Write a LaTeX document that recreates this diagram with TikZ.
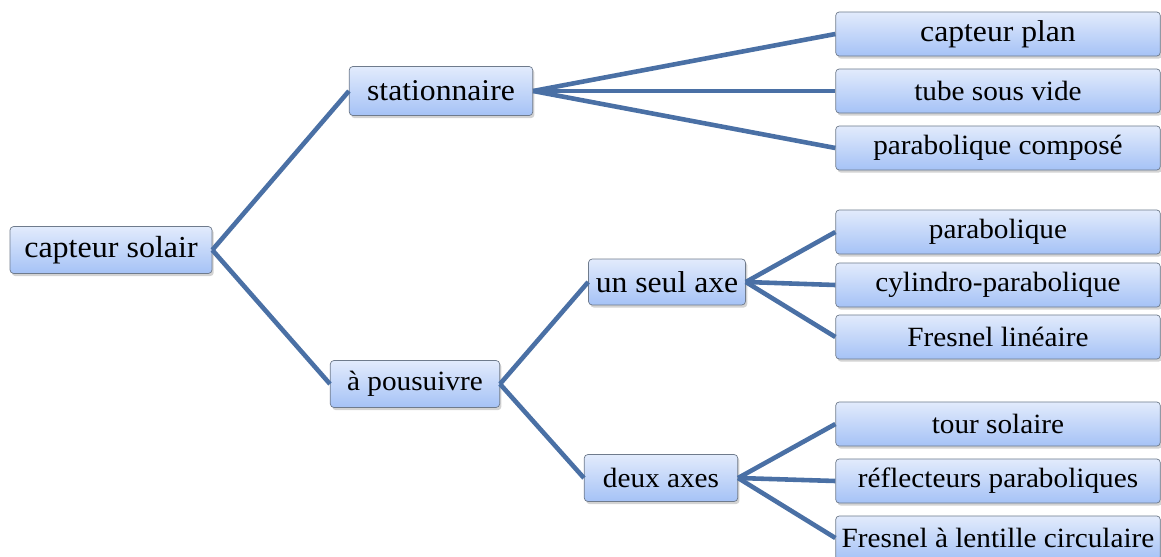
\documentclass[tikz,border=0pt]{standalone}
\usepackage{fontspec}
\setmainfont{Liberation Serif}[FakeStretch=1.05]
\usetikzlibrary{shadows}
\definecolor{boxtop}{HTML}{E2EBFC}
\definecolor{boxbot}{HTML}{A5C2F6}
\definecolor{boxline}{HTML}{6F7B8C}
\definecolor{link}{HTML}{4A70A5}
\tikzset{
  box/.style={draw=boxline, rounded corners=2pt, top color=boxtop, bottom color=boxbot,
              drop shadow={shadow xshift=1pt, shadow yshift=-1.5pt, opacity=0.35},
              inner sep=0pt, font=\fontsize{15.8}{18}\selectfont},
  leaf/.style={box, minimum width=184pt, minimum height=25pt},
  link/.style={draw=link, line width=2.6pt}
}
\begin{document}
\begin{tikzpicture}[x=0.567pt, y=-0.567pt]
\useasboundingbox (0,0) rectangle (1161,557);
% root and branches
\node[box, minimum width=114.5pt, minimum height=26.6pt, font=\fontsize{17.3}{20}\selectfont] (root) at (111,250) {capteur solair};
\node[box, minimum width=104pt, minimum height=27.8pt, font=\fontsize{17.1}{20}\selectfont] (stat) at (441,91) {stationnaire};
\node[box, minimum width=96pt, minimum height=26.6pt] (pours) at (415,384) {à pousuivre};
\node[box, minimum width=89pt, minimum height=26pt, font=\fontsize{17.1}{20}\selectfont] (unaxe) at (667,282) {un seul axe};
\node[box, minimum width=87pt, minimum height=26.6pt] (deuxaxes) at (661,478) {deux axes};
% leaves
\node[leaf, font=\fontsize{17.1}{20}\selectfont] (plan) at (998,34) {capteur plan};
\node[leaf] (tube) at (998,91) {tube sous vide};
\node[leaf] (compose) at (998,148) {parabolique composé};
\node[leaf] (parab) at (998,232) {parabolique};
\node[leaf] (cylindro) at (998,285) {cylindro-parabolique};
\node[leaf] (fresnel) at (998,337) {Fresnel linéaire};
\node[leaf] (tour) at (998,424) {tour solaire};
\node[leaf] (reflect) at (998,481) {réflecteurs paraboliques};
\node[leaf] (lentille) at (998,538) {Fresnel à lentille circulaire};
%
\draw[link] (root.east) -- (stat.west);
\draw[link] (root.east) -- (pours.west);
\foreach \n in {plan,tube,compose} \draw[link] (stat.east) -- (\n.west);
\draw[link] (pours.east) -- (unaxe.west);
\draw[link] (pours.east) -- (deuxaxes.west);
\foreach \n in {parab,cylindro,fresnel} \draw[link] (unaxe.east) -- (\n.west);
\foreach \n in {tour,reflect,lentille} \draw[link] (deuxaxes.east) -- (\n.west);
\end{tikzpicture}
\end{document}
